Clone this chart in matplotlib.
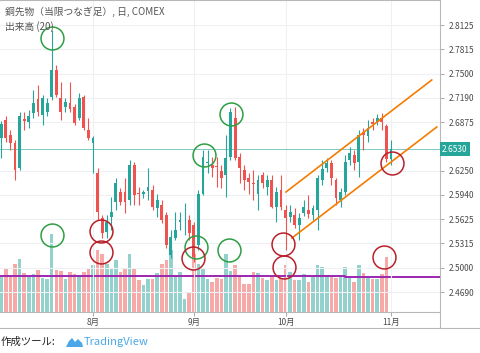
import matplotlib
matplotlib.use('Agg')
import matplotlib.pyplot as plt
import matplotlib.transforms as mtransforms
from matplotlib.patches import Polygon
import numpy as np

plt.rcParams['font.family'] = ['Noto Sans CJK JP', 'DejaVu Sans']

# daily bars, copper front month (COMEX), early July -> Nov 1
opens = [2.667, 2.690, 2.671, 2.661, 2.629, 2.692, 2.688, 2.699, 2.717, 2.697,
         2.701, 2.720, 2.755, 2.719, 2.707, 2.712, 2.707, 2.693, 2.720, 2.677,
         2.661, 2.622, 2.564, 2.546, 2.566, 2.585, 2.598, 2.598, 2.587, 2.632,
         2.596, 2.595, 2.599, 2.600, 2.577, 2.581, 2.568, 2.517, 2.539, 2.559,
         2.560, 2.562, 2.555, 2.530, 2.595, 2.635, 2.632, 2.631, 2.625, 2.620,
         2.643, 2.693, 2.643, 2.626, 2.616, 2.609, 2.595, 2.620, 2.604, 2.613,
         2.578, 2.600, 2.575, 2.566, 2.568, 2.555, 2.571, 2.575, 2.568, 2.575,
         2.613, 2.629, 2.635, 2.613, 2.587, 2.598, 2.639, 2.645, 2.636, 2.675,
         2.670, 2.688, 2.688, 2.693, 2.683, 2.640]
highs = [2.689, 2.695, 2.677, 2.665, 2.701, 2.701, 2.703, 2.729, 2.735, 2.722,
         2.719, 2.806, 2.761, 2.739, 2.719, 2.739, 2.711, 2.725, 2.722, 2.693,
         2.670, 2.629, 2.568, 2.568, 2.591, 2.616, 2.603, 2.616, 2.639, 2.636,
         2.604, 2.600, 2.629, 2.607, 2.595, 2.587, 2.572, 2.549, 2.572, 2.572,
         2.584, 2.568, 2.559, 2.600, 2.652, 2.652, 2.643, 2.643, 2.632, 2.671,
         2.706, 2.707, 2.648, 2.632, 2.622, 2.626, 2.620, 2.623, 2.620, 2.620,
         2.604, 2.620, 2.581, 2.581, 2.577, 2.571, 2.587, 2.594, 2.581, 2.620,
         2.639, 2.641, 2.639, 2.616, 2.603, 2.645, 2.656, 2.652, 2.677, 2.680,
         2.690, 2.693, 2.698, 2.699, 2.685, 2.665]
lows = [2.641, 2.662, 2.652, 2.613, 2.626, 2.677, 2.680, 2.693, 2.695, 2.684,
        2.695, 2.716, 2.720, 2.690, 2.701, 2.701, 2.684, 2.690, 2.677, 2.665,
        2.622, 2.562, 2.539, 2.539, 2.549, 2.575, 2.581, 2.571, 2.581, 2.581,
        2.581, 2.590, 2.587, 2.575, 2.566, 2.558, 2.526, 2.513, 2.536, 2.549,
        2.542, 2.536, 2.508, 2.523, 2.594, 2.622, 2.617, 2.604, 2.603, 2.591,
        2.639, 2.639, 2.609, 2.600, 2.595, 2.587, 2.575, 2.603, 2.594, 2.577,
        2.559, 2.575, 2.523, 2.559, 2.551, 2.536, 2.567, 2.564, 2.562, 2.549,
        2.607, 2.623, 2.607, 2.581, 2.578, 2.594, 2.632, 2.626, 2.617, 2.652,
        2.662, 2.677, 2.684, 2.677, 2.636, 2.632]
closes = [2.685, 2.667, 2.661, 2.626, 2.695, 2.689, 2.695, 2.712, 2.701, 2.719,
          2.712, 2.755, 2.722, 2.701, 2.713, 2.704, 2.686, 2.719, 2.680, 2.667,
          2.667, 2.572, 2.545, 2.559, 2.572, 2.609, 2.585, 2.585, 2.632, 2.594,
          2.595, 2.598, 2.604, 2.578, 2.587, 2.562, 2.530, 2.540, 2.549, 2.562,
          2.561, 2.545, 2.514, 2.595, 2.643, 2.636, 2.629, 2.630, 2.616, 2.641,
          2.701, 2.641, 2.629, 2.613, 2.611, 2.6085, 2.613, 2.609, 2.613, 2.578,
          2.598, 2.578, 2.564, 2.572, 2.555, 2.564, 2.578, 2.569, 2.577, 2.616,
          2.627, 2.635, 2.616, 2.590, 2.598, 2.636, 2.648, 2.635, 2.671, 2.671,
          2.680, 2.685, 2.693, 2.688, 2.640, 2.653]
# volume, thousand contracts
volumes = [87.5, 107.5, 92.5, 120, 132.5, 97.5, 87.5, 95, 105, 85,
           82.5, 195, 105, 102.5, 82.5, 100, 95, 92.5, 100, 107.5,
           117.5, 155, 145, 120, 110, 130, 100, 107.5, 145, 110,
           80, 67.5, 82.5, 82.5, 97.5, 120, 130, 155, 92.5, 100,
           32.5, 50, 145, 120, 107.5, 82.5, 75, 85, 82.5, 145,
           102.5, 117.5, 87.5, 70, 70, 100, 97.5, 85, 80, 87.5,
           80, 85, 117.5, 100, 80, 80, 95, 75, 87.5, 117.5,
           112.5, 92.5, 87.5, 85, 87.5, 112.5, 85, 75, 117.5, 97.5,
           90, 82.5, 82.5, 95, 137.5, 0]

month_pos = [20, 42, 62, 85]
month_labels = ['8月', '9月', '10月', '11月']
price_ticks = [2.8125, 2.7815, 2.7500, 2.7190, 2.6875, 2.6250,
               2.5940, 2.5625, 2.5315, 2.5000, 2.4690]
last_price = 2.6530

# purple volume level line
vol_line_x = [-0.3, 75, 75, 95.7]
vol_line_v = [89, 89, 86.5, 86.5]

# drawn up-channel
chan_upper_x = [62.1, 93.9]
chan_upper_y = [2.5977, 2.7418]
chan_lower_x = [63.4, 95.0]
chan_lower_y = [2.5385, 2.6813]

# hand-drawn circles
green_cx = [11.1, 11.1, 44.2, 50.1, 42.5, 49.7]
green_cy = [2.7958, 2.5424, 2.6453, 2.6980, 2.5269, 2.5231]
red_cx = [21.7, 21.7, 41.8, 61.4, 61.7, 83.5, 85.2]
red_cy = [2.5475, 2.5205, 2.5128, 2.5308, 2.5012, 2.5141, 2.6350]

UP = '#26a69a'
DOWN = '#ef5350'
GRID = '#eef0f3'
TXT = '#4a4a4a'

o = np.array(opens); h = np.array(highs); l = np.array(lows); c = np.array(closes)
x = np.arange(len(o))
up = c >= o
cols = np.where(up, UP, DOWN)

fig = plt.figure(figsize=(4.8, 3.53), dpi=100)
rect = [0, 41 / 353, 440 / 480, 312 / 353]
ax = fig.add_axes(rect)
axv = ax.twinx()
ax.set_zorder(2)
ax.patch.set_visible(False)

# volume overlay
vcols = np.where(up, '#93d2cc', '#f7a9a8')
axv.bar(x, volumes, width=0.78, color=vcols, linewidth=0)
axv.plot(vol_line_x, vol_line_v, color='#9c27b0', lw=1.4)
axv.set_ylim(0, 780)
axv.set_yticks([])
for s in axv.spines.values():
    s.set_visible(False)

# candles
ax.vlines(x, l, h, colors=cols, lw=0.8, zorder=3)
body = np.maximum(np.abs(c - o), 0.0009)
ax.bar(x, body, bottom=np.minimum(o, c), width=0.62, color=cols, linewidth=0, zorder=4)

ax.axhline(last_price, color=UP, lw=0.7, alpha=0.6, zorder=2)
ax.plot(chan_upper_x, chan_upper_y, color='#f57c00', lw=1.2, zorder=5)
ax.plot(chan_lower_x, chan_lower_y, color='#f57c00', lw=1.2, zorder=5)

ax.plot(green_cx, green_cy, 'o', ms=16.5, mfc='none', mec='#2e9e44', mew=1.1, zorder=6)
ax.plot(red_cx, red_cy, 'o', ms=16.5, mfc='none', mec='#b8202a', mew=1.1, zorder=6)

ax.set_xlim(-0.28, 95.7)
ax.set_ylim(2.4433, 2.8447)
ax.yaxis.tick_right()
ax.set_yticks(price_ticks)
ax.set_yticklabels([f'{t:.4f}' for t in price_ticks])
ax.set_xticks(month_pos)
ax.set_xticklabels(month_labels)
ax.tick_params(axis='y', length=3, width=0.6, color='#9a9a9a', labelsize=6,
               labelcolor=TXT, pad=3)
ax.tick_params(axis='x', length=3, width=0.6, color='#9a9a9a', labelsize=6,
               labelcolor=TXT, pad=1)
ax.grid(True, color=GRID, lw=0.8)
ax.set_axisbelow(True)
for side in ['left']:
    ax.spines[side].set_visible(False)
for side in ['top', 'right', 'bottom']:
    ax.spines[side].set_color('#b8b8b8')
    ax.spines[side].set_linewidth(0.8)

# current price tag
trans = mtransforms.blended_transform_factory(ax.transAxes, ax.transData)
ax.text(1.005, last_price, f'{last_price:.4f}', transform=trans, fontsize=6,
        color='white', va='center', ha='left', zorder=10, clip_on=False,
        bbox=dict(boxstyle='square,pad=0.3', fc=UP, ec='none'))

# frame lines of the time scale
fig.add_artist(plt.Line2D([0, 1], [1 - 328 / 353] * 2, color='#b8b8b8', lw=0.8))
fig.add_artist(plt.Line2D([440 / 480] * 2, [1 - 328 / 353, 1 - 312 / 353], color='#b8b8b8', lw=0.8))

fig.text(5 / 480, 1 - 12 / 353, '銅先物（当限つなぎ足）, 日, COMEX', fontsize=7,
         color='#555555', va='center', ha='left')
fig.text(5 / 480, 1 - 27 / 353, '出来高 (20)', fontsize=7, color='#555555',
         va='center', ha='left')

fig.text(1 / 480, 1 - 342 / 353, '作成ツール:', fontsize=7.5, color='#222222',
         va='center', ha='left')
logo = [(66, 347), (69, 341), (72, 338), (75, 342), (78, 339), (82, 343), (83, 347)]
fig.add_artist(Polygon([(px / 480, 1 - py / 353) for px, py in logo], closed=True,
                       transform=fig.transFigure, fc='#4aa8e8', ec='none'))
fig.text(84 / 480, 1 - 342 / 353, 'TradingView', fontsize=8, color='#4aa8e8',
         va='center', ha='left')

fig.savefig('out.png', dpi=100)
